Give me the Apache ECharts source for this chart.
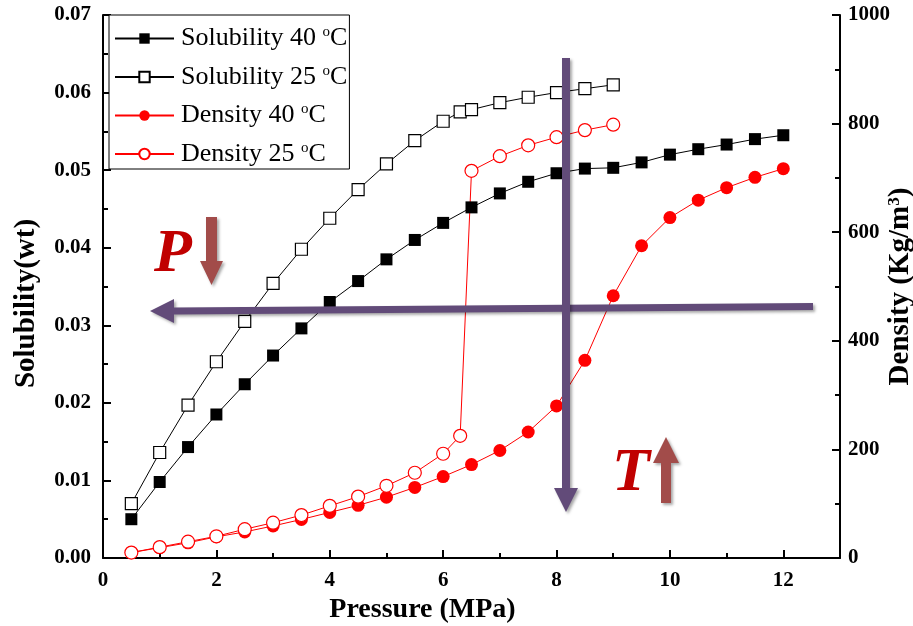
<!DOCTYPE html>
<html>
<head>
<meta charset="utf-8">
<script src="https://cdn.jsdelivr.net/npm/echarts@6/dist/echarts.min.js"></script>
<style>
html,body{margin:0;padding:0;background:#fff;}
#c{width:913px;height:626px;}
</style>
</head>
<body>
<div id="c"></div>
<script>
// ---- data ----
const pressure40 = [0.5,1,1.5,2,2.5,3,3.5,4,4.5,5,5.5,6,6.5,7,7.5,8,8.5,9,9.5,10,10.5,11,11.5,12];
const solubility40 = [0.0050,0.0098,0.0143,0.0185,0.0224,0.0261,0.0296,0.0330,0.0357,0.0385,0.0410,0.0432,0.0452,0.0470,0.0485,0.0496,0.0502,0.0503,0.0510,0.0520,0.0527,0.0533,0.0540,0.0545];
const density40 = [10,19,28,39,48,59,71,84,97,112,130,150,172,198,232,280,364,483,575,627,659,682,701,717];
const pressure25 = [0.5,1,1.5,2,2.5,3,3.5,4,4.5,5,5.5,6,6.3,6.5,7,7.5,8,8.5,9];
const solubility25 = [0.0070,0.0136,0.0197,0.0253,0.0305,0.0354,0.0398,0.0438,0.0475,0.0508,0.0538,0.0563,0.0575,0.0578,0.0587,0.0594,0.0600,0.0605,0.0610];
const density25 = [10,20,30,40,53,65,79,96,113,133,157,192,225,713,740,760,775,788,798];
const seriesNames = ['Solubility 40 \u00b0C','Solubility 25 \u00b0C','Density 40 \u00b0C','Density 25 \u00b0C'];
const xTitle = 'Pressure (MPa)';
const yLeftTitle = 'Solubility(wt)';

function pairs(xs, ys){ return xs.map((x,i)=>[x, ys[i]]); }

const FONT = '"Liberation Serif","Times New Roman",serif';
const chart = echarts.init(document.getElementById('c'), null, {renderer:'canvas'});

const axisCommon = {
  axisLine:{show:true, lineStyle:{color:'#000', width:2}},
  axisTick:{show:true, inside:true, length:8, lineStyle:{color:'#000', width:2}},
  minorTick:{show:true, splitNumber:2, length:5, lineStyle:{color:'#000', width:2}},
  splitLine:{show:false},
  axisLabel:{color:'#000', fontFamily:FONT, fontWeight:'bold', fontSize:21}
};

const legendRich = {
  a:{fontFamily:FONT, fontSize:26, color:'#000', lineHeight:27},
  s:{fontFamily:FONT, fontSize:15, color:'#000', verticalAlign:'top', lineHeight:13}
};

chart.setOption({
  animation:false,
  backgroundColor:'#fff',
  grid:{left:103, right:73, top:15, bottom:68, containLabel:false, outerBoundsMode:'none'},
  legend:{
    orient:'vertical', left:109, top:15,
    padding:[10,2,2,5], itemGap:12, itemWidth:59, itemHeight:13,
    backgroundColor:'#fff', borderColor:'#000', borderWidth:1,
    data:seriesNames,
    formatter:function(n){ const p=n.split(' \u00b0'); return '{a|'+p[0]+' }{s|o}{a|C}'; },
    textStyle:{rich:legendRich, padding:[0,0,0,2]}
  },
  xAxis:Object.assign({}, axisCommon, {
    type:'value', min:0, max:13, interval:2,
    name:xTitle, nameLocation:'middle', nameGap:36,
    nameTextStyle:{fontFamily:FONT, fontWeight:'bold', fontSize:28, color:'#000', padding:[0,98,0,0]},
    axisLabel:Object.assign({}, axisCommon.axisLabel, {margin:12, showMaxLabel:false})
  }),
  yAxis:[
    Object.assign({}, axisCommon, {
      type:'value', min:0, max:0.07, interval:0.01, position:'left',
      name:yLeftTitle, nameLocation:'middle', nameGap:62, nameRotate:90,
      nameTextStyle:{fontFamily:FONT, fontWeight:'bold', fontSize:29, color:'#000', padding:[0,34,0,0]},
      axisLabel:Object.assign({}, axisCommon.axisLabel, {margin:12, formatter:v=>v.toFixed(2)})
    }),
    Object.assign({}, axisCommon, {
      type:'value', min:0, max:1000, interval:200, position:'right',
      name:'{a|Density (Kg/m}{s|3}{a|)}', nameLocation:'middle', nameGap:46, nameRotate:90,
      nameMoveOverlap:false,
      nameTextStyle:{rich:{
        a:{fontFamily:FONT, fontWeight:'bold', fontSize:29, color:'#000', lineHeight:30},
        s:{fontFamily:FONT, fontWeight:'bold', fontSize:17, color:'#000', verticalAlign:'top', lineHeight:15}
      }},
      axisLabel:Object.assign({}, axisCommon.axisLabel, {margin:8, formatter:v=>String(v)})
    })
  ],
  series:[
    {name:seriesNames[0], type:'line', yAxisIndex:0, data:pairs(pressure40, solubility40),
     symbol:'rect', symbolSize:12, itemStyle:{color:'#000'}, lineStyle:{color:'#000', width:1}, z:3},
    {name:seriesNames[1], type:'line', yAxisIndex:0, data:pairs(pressure25, solubility25),
     symbol:'rect', symbolSize:12, itemStyle:{color:'#fff', borderColor:'#000', borderWidth:1.2}, lineStyle:{color:'#000', width:1}, z:3},
    {name:seriesNames[2], type:'line', yAxisIndex:1, data:pairs(pressure40, density40),
     symbol:'circle', symbolSize:13, itemStyle:{color:'#ff0000'}, lineStyle:{color:'#ff0000', width:1}, z:3},
    {name:seriesNames[3], type:'line', yAxisIndex:1, data:pairs(pressure25, density25),
     symbol:'circle', symbolSize:13, itemStyle:{color:'#fff', borderColor:'#ff0000', borderWidth:1.2}, lineStyle:{color:'#ff0000', width:1}, z:3}
  ],
  graphic:[
    {type:'polygon', z:100, shape:{points:[[813,303],[174,307.5],[174,299],[150,311],[174,323],[174,314.5],[813,310]]},
     style:{fill:'#624B79', shadowBlur:3, shadowOffsetX:2, shadowOffsetY:2, shadowColor:'rgba(0,0,0,0.35)'}},
    {type:'polygon', z:101, shape:{points:[[562,58],[570,58],[570,488],[578,488],[566,512],[554,488],[562,488]]},
     style:{fill:'#624B79', shadowBlur:3, shadowOffsetX:2, shadowOffsetY:2, shadowColor:'rgba(0,0,0,0.35)'}},
    {type:'polygon', z:101, shape:{points:[[206,217],[217,217],[217,261],[223,261],[211.5,285],[200,261],[206,261]]},
     style:{fill:'#A24C4A', shadowBlur:3, shadowOffsetX:2, shadowOffsetY:2, shadowColor:'rgba(0,0,0,0.35)'}},
    {type:'polygon', z:101, shape:{points:[[661,503],[671,503],[671,463],[679,463],[666,437],[653,463],[661,463]]},
     style:{fill:'#A24C4A', shadowBlur:3, shadowOffsetX:2, shadowOffsetY:2, shadowColor:'rgba(0,0,0,0.35)'}},
    {type:'text', z:102, style:{text:'P', x:154, y:255, fill:'#C00000', font:'italic bold 62px "Liberation Serif"', verticalAlign:'middle', align:'left'}},
    {type:'text', z:102, style:{text:'T', x:612, y:474, fill:'#C00000', font:'italic bold 62px "Liberation Serif"', verticalAlign:'middle', align:'left'}}
  ]
});
</script>
</body>
</html>
